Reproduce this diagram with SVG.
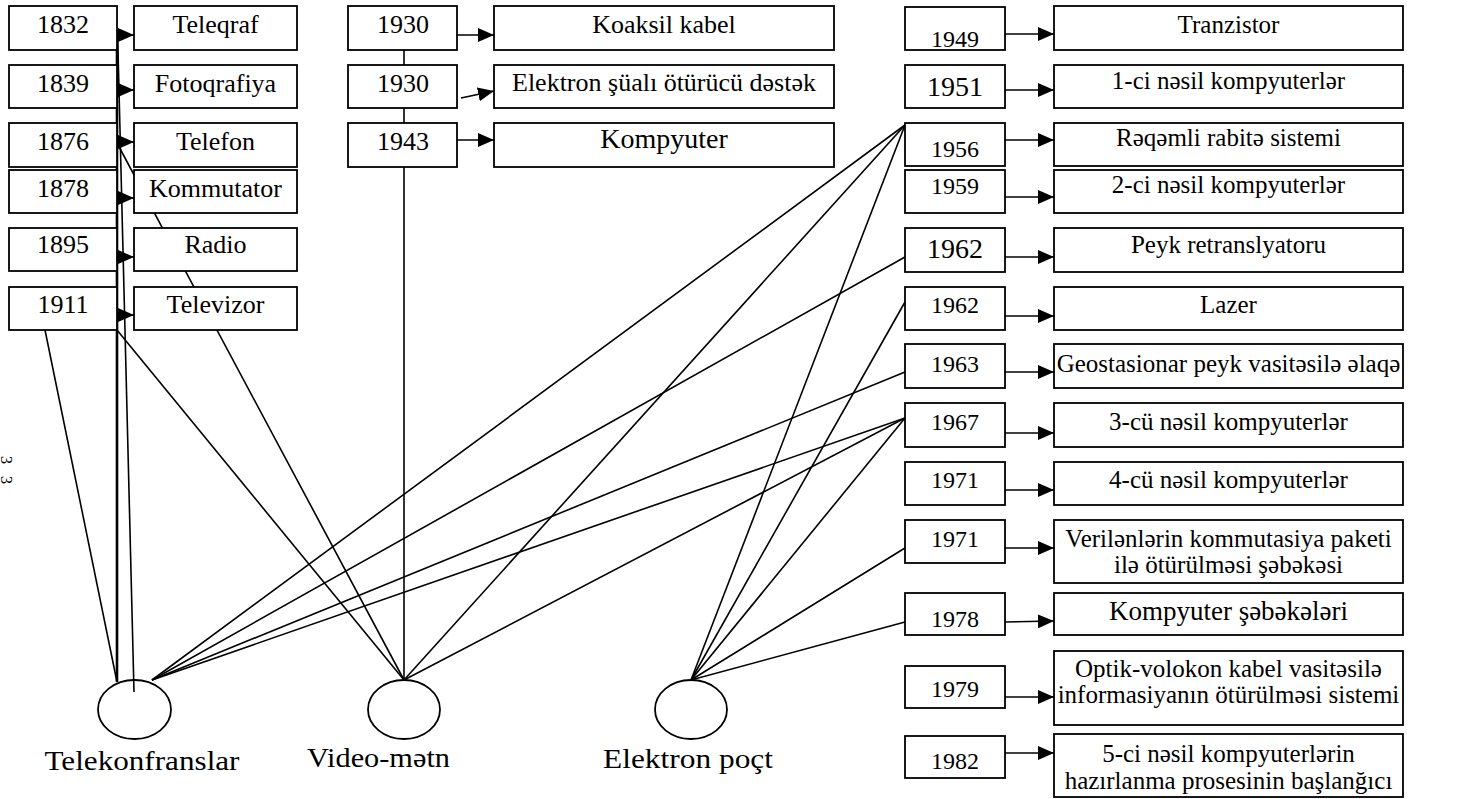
<svg xmlns="http://www.w3.org/2000/svg" width="1457" height="799" viewBox="0 0 1457 799">
<style>
.box{fill:#fff;stroke:#000;stroke-width:1.8}
.el{fill:none;stroke:#000;stroke-width:1.8}
.t{font-family:"Liberation Serif","Times New Roman",serif;fill:#000;text-anchor:middle;font-size:26px}
.r{font-size:24px}
.n{font-size:25px}
.big{font-size:28px}
.lab{font-size:28px}
.ln{stroke:#000;stroke-width:1.6;fill:none}
.ar{marker-end:url(#ah)}
</style>
<defs>
<marker id="ah" markerUnits="userSpaceOnUse" markerWidth="16" markerHeight="14" refX="16" refY="7" orient="auto">
<path d="M0,0 L16,7 L0,14 z" fill="#000"/>
</marker>
</defs>
<rect width="1457" height="799" fill="#fff"/>
<text class="t" transform="translate(1,456) rotate(90)" style="text-anchor:start;font-size:16px" textLength="28" lengthAdjust="spacing">33</text>

<g id="connectors">
<line class="ln ar" x1="117" y1="35" x2="134" y2="35"/>
<line class="ln ar" x1="117" y1="90" x2="134" y2="90"/>
<line class="ln ar" x1="117" y1="142" x2="134" y2="142"/>
<line class="ln ar" x1="117" y1="198" x2="134" y2="198"/>
<line class="ln ar" x1="117" y1="257" x2="134" y2="257"/>
<line class="ln ar" x1="117" y1="315" x2="134" y2="315"/>
<line class="ln" x1="117" y1="30" x2="117" y2="682" style="stroke-width:2.6"/>
<line class="ln" x1="117.5" y1="30" x2="134" y2="692"/>
<line class="ln" x1="45" y1="330" x2="117" y2="682"/>
<line class="ln" x1="117" y1="143" x2="404" y2="680"/>
<line class="ln" x1="117" y1="330" x2="404" y2="680"/>
<line class="ln" x1="152" y1="680" x2="905" y2="125"/>
<line class="ln" x1="152" y1="680" x2="905" y2="257"/>
<line class="ln" x1="152" y1="680" x2="905" y2="372"/>
<line class="ln" x1="152" y1="680" x2="905" y2="418"/>
<line class="ln" x1="404" y1="680" x2="905" y2="125"/>
<line class="ln" x1="404" y1="680" x2="905" y2="418"/>
<line class="ln" x1="691" y1="680" x2="905" y2="125"/>
<line class="ln" x1="691" y1="680" x2="905" y2="302"/>
<line class="ln" x1="691" y1="680" x2="905" y2="418"/>
<line class="ln" x1="691" y1="680" x2="905" y2="548"/>
<line class="ln" x1="691" y1="680" x2="905" y2="622"/>
<line class="ln" x1="404" y1="50" x2="404" y2="65"/>
<line class="ln" x1="404" y1="108" x2="404" y2="123"/>
<line class="ln" x1="404" y1="167" x2="404" y2="680"/>
<line class="ln ar" x1="457" y1="35" x2="494" y2="35"/>
<line class="ln ar" x1="461" y1="98" x2="494" y2="91"/>
<line class="ln ar" x1="457" y1="140" x2="494" y2="140"/>
<line class="ln ar" x1="1005" y1="34" x2="1054" y2="34"/>
<line class="ln ar" x1="1005" y1="90" x2="1054" y2="90"/>
<line class="ln ar" x1="1005" y1="140" x2="1054" y2="140"/>
<line class="ln ar" x1="1005" y1="197" x2="1054" y2="197"/>
<line class="ln ar" x1="1005" y1="257" x2="1054" y2="257"/>
<line class="ln ar" x1="1005" y1="316" x2="1054" y2="316"/>
<line class="ln ar" x1="1005" y1="372" x2="1054" y2="372"/>
<line class="ln ar" x1="1005" y1="433" x2="1054" y2="433"/>
<line class="ln ar" x1="1005" y1="490" x2="1054" y2="490"/>
<line class="ln ar" x1="1005" y1="548" x2="1054" y2="548"/>
<line class="ln ar" x1="1005" y1="622" x2="1054" y2="621"/>
<line class="ln ar" x1="1005" y1="697" x2="1054" y2="697"/>
<line class="ln ar" x1="1005" y1="753" x2="1054" y2="753"/>
</g>

<g id="d1832"><rect class="box" x="9" y="6" width="108" height="44"/><text class="t" x="63" y="33">1832</text></g>
<g id="n1832"><rect class="box" x="134" y="6" width="163" height="44"/><text class="t" x="215.5" y="33">Teleqraf</text></g>
<g id="d1839"><rect class="box" x="9" y="65" width="108" height="43"/><text class="t" x="63" y="92">1839</text></g>
<g id="n1839"><rect class="box" x="134" y="65" width="163" height="43"/><text class="t" x="215.5" y="92">Fotoqrafiya</text></g>
<g id="d1876"><rect class="box" x="9" y="123" width="108" height="44"/><text class="t" x="63" y="150">1876</text></g>
<g id="n1876"><rect class="box" x="134" y="123" width="163" height="44"/><text class="t" x="215.5" y="150">Telefon</text></g>
<g id="d1878"><rect class="box" x="9" y="170" width="108" height="43"/><text class="t" x="63" y="197">1878</text></g>
<g id="n1878"><rect class="box" x="134" y="170" width="163" height="43"/><text class="t" x="215.5" y="197">Kommutator</text></g>
<g id="d1895"><rect class="box" x="9" y="228" width="108" height="43"/><text class="t" x="63" y="253">1895</text></g>
<g id="n1895"><rect class="box" x="134" y="228" width="163" height="43"/><text class="t" x="215.5" y="253">Radio</text></g>
<g id="d1911"><rect class="box" x="9" y="287" width="108" height="43"/><text class="t" x="63" y="313">1911</text></g>
<g id="n1911"><rect class="box" x="134" y="287" width="163" height="43"/><text class="t" x="215.5" y="313">Televizor</text></g>

<g id="d1930a"><rect class="box" x="348" y="6" width="109" height="44"/><text class="t" x="403" y="33">1930</text></g>
<g id="n1930a"><rect class="box" x="494" y="6" width="340" height="44"/><text class="t" x="664" y="33">Koaksil kabel</text></g>
<g id="d1930b"><rect class="box" x="348" y="65" width="109" height="43"/><text class="t" x="403" y="92">1930</text></g>
<g id="n1930b"><rect class="box" x="494" y="65" width="340" height="43"/><text class="t" x="664" y="91">Elektron şüalı ötürücü dəstək</text></g>
<g id="d1943"><rect class="box" x="348" y="123" width="109" height="44"/><text class="t" x="403" y="150">1943</text></g>
<g id="n1943"><rect class="box" x="494" y="123" width="340" height="44"/><text class="t big" x="664" y="148">Kompyuter</text></g>

<g id="d1949"><rect class="box" x="905" y="7" width="100" height="43"/><text class="t r" x="955" y="47">1949</text></g>
<g id="n1949"><rect class="box" x="1054" y="6" width="349" height="44"/><text class="t n" x="1228.5" y="33">Tranzistor</text></g>
<g id="d1951"><rect class="box" x="905" y="65" width="100" height="43"/><text class="t big" x="955" y="96">1951</text></g>
<g id="n1951"><rect class="box" x="1054" y="65" width="349" height="43"/><text class="t n" x="1228.5" y="89">1-ci nəsil kompyuterlər</text></g>
<g id="d1956"><rect class="box" x="905" y="123" width="100" height="43"/><text class="t r" x="955" y="157">1956</text></g>
<g id="n1956"><rect class="box" x="1054" y="123" width="349" height="43"/><text class="t n" x="1228.5" y="146">Rəqəmli rabitə sistemi</text></g>
<g id="d1959"><rect class="box" x="905" y="170" width="100" height="43"/><text class="t r" x="955" y="194">1959</text></g>
<g id="n1959"><rect class="box" x="1054" y="170" width="349" height="43"/><text class="t n" x="1228.5" y="193">2-ci nəsil kompyuterlər</text></g>
<g id="d1962a"><rect class="box" x="905" y="228" width="100" height="44"/><text class="t big" x="955" y="258">1962</text></g>
<g id="n1962a"><rect class="box" x="1054" y="228" width="349" height="44"/><text class="t n" x="1228.5" y="253">Peyk retranslyatoru</text></g>
<g id="d1962b"><rect class="box" x="905" y="287" width="100" height="43"/><text class="t r" x="955" y="313">1962</text></g>
<g id="n1962b"><rect class="box" x="1054" y="287" width="349" height="43"/><text class="t n" x="1228.5" y="313">Lazer</text></g>
<g id="d1963"><rect class="box" x="905" y="344" width="100" height="44"/><text class="t r" x="955" y="372">1963</text></g>
<g id="n1963"><rect class="box" x="1054" y="344" width="349" height="44"/><text class="t n" x="1228.5" y="372">Geostasionar peyk vasitəsilə əlaqə</text></g>
<g id="d1967"><rect class="box" x="905" y="403" width="100" height="44"/><text class="t r" x="955" y="430">1967</text></g>
<g id="n1967"><rect class="box" x="1054" y="403" width="349" height="44"/><text class="t n" x="1228.5" y="430">3-cü nəsil kompyuterlər</text></g>
<g id="d1971a"><rect class="box" x="905" y="462" width="100" height="43"/><text class="t r" x="955" y="488">1971</text></g>
<g id="n1971a"><rect class="box" x="1054" y="462" width="349" height="43"/><text class="t n" x="1228.5" y="488">4-cü nəsil kompyuterlər</text></g>
<g id="d1971b"><rect class="box" x="905" y="520" width="100" height="43"/><text class="t r" x="955" y="547">1971</text></g>
<g id="n1971b"><rect class="box" x="1054" y="520" width="349" height="63"/><text class="t n" x="1228.5" y="547">Verilənlərin kommutasiya paketi</text><text class="t n" x="1228.5" y="573">ilə ötürülməsi şəbəkəsi</text></g>
<g id="d1978"><rect class="box" x="905" y="593" width="100" height="42"/><text class="t r" x="955" y="627">1978</text></g>
<g id="n1978"><rect class="box" x="1054" y="593" width="349" height="42"/><text class="t n" x="1228.5" y="620" style="font-size:27px">Kompyuter şəbəkələri</text></g>
<g id="d1979"><rect class="box" x="905" y="666" width="100" height="42"/><text class="t r" x="955" y="697">1979</text></g>
<g id="n1979"><rect class="box" x="1054" y="651" width="349" height="74"/><text class="t n" x="1228.5" y="677">Optik-volokon kabel vasitəsilə</text><text class="t n" x="1228.5" y="703">informasiyanın ötürülməsi sistemi</text></g>
<g id="d1982"><rect class="box" x="905" y="736" width="100" height="42"/><text class="t r" x="955" y="769">1982</text></g>
<g id="n1982"><rect class="box" x="1054" y="734" width="349" height="63"/><text class="t n" x="1228.5" y="762">5-ci nəsil kompyuterlərin</text><text class="t n" x="1228.5" y="789">hazırlanma prosesinin başlanğıcı</text></g>

<g id="telekonfranslar"><ellipse class="el" cx="134.5" cy="709.5" rx="36.5" ry="29.5"/><text class="t lab" x="142" y="770" textLength="195" lengthAdjust="spacingAndGlyphs">Telekonfranslar</text></g>
<g id="video-metn"><ellipse class="el" cx="404" cy="709.5" rx="36" ry="29.5"/><text class="t lab" x="378.5" y="767" textLength="143" lengthAdjust="spacingAndGlyphs">Video-mətn</text></g>
<g id="elektron-poct"><ellipse class="el" cx="691" cy="709.5" rx="36" ry="29.5"/><text class="t lab" x="688" y="768" textLength="170" lengthAdjust="spacingAndGlyphs">Elektron poçt</text></g>
</svg>
